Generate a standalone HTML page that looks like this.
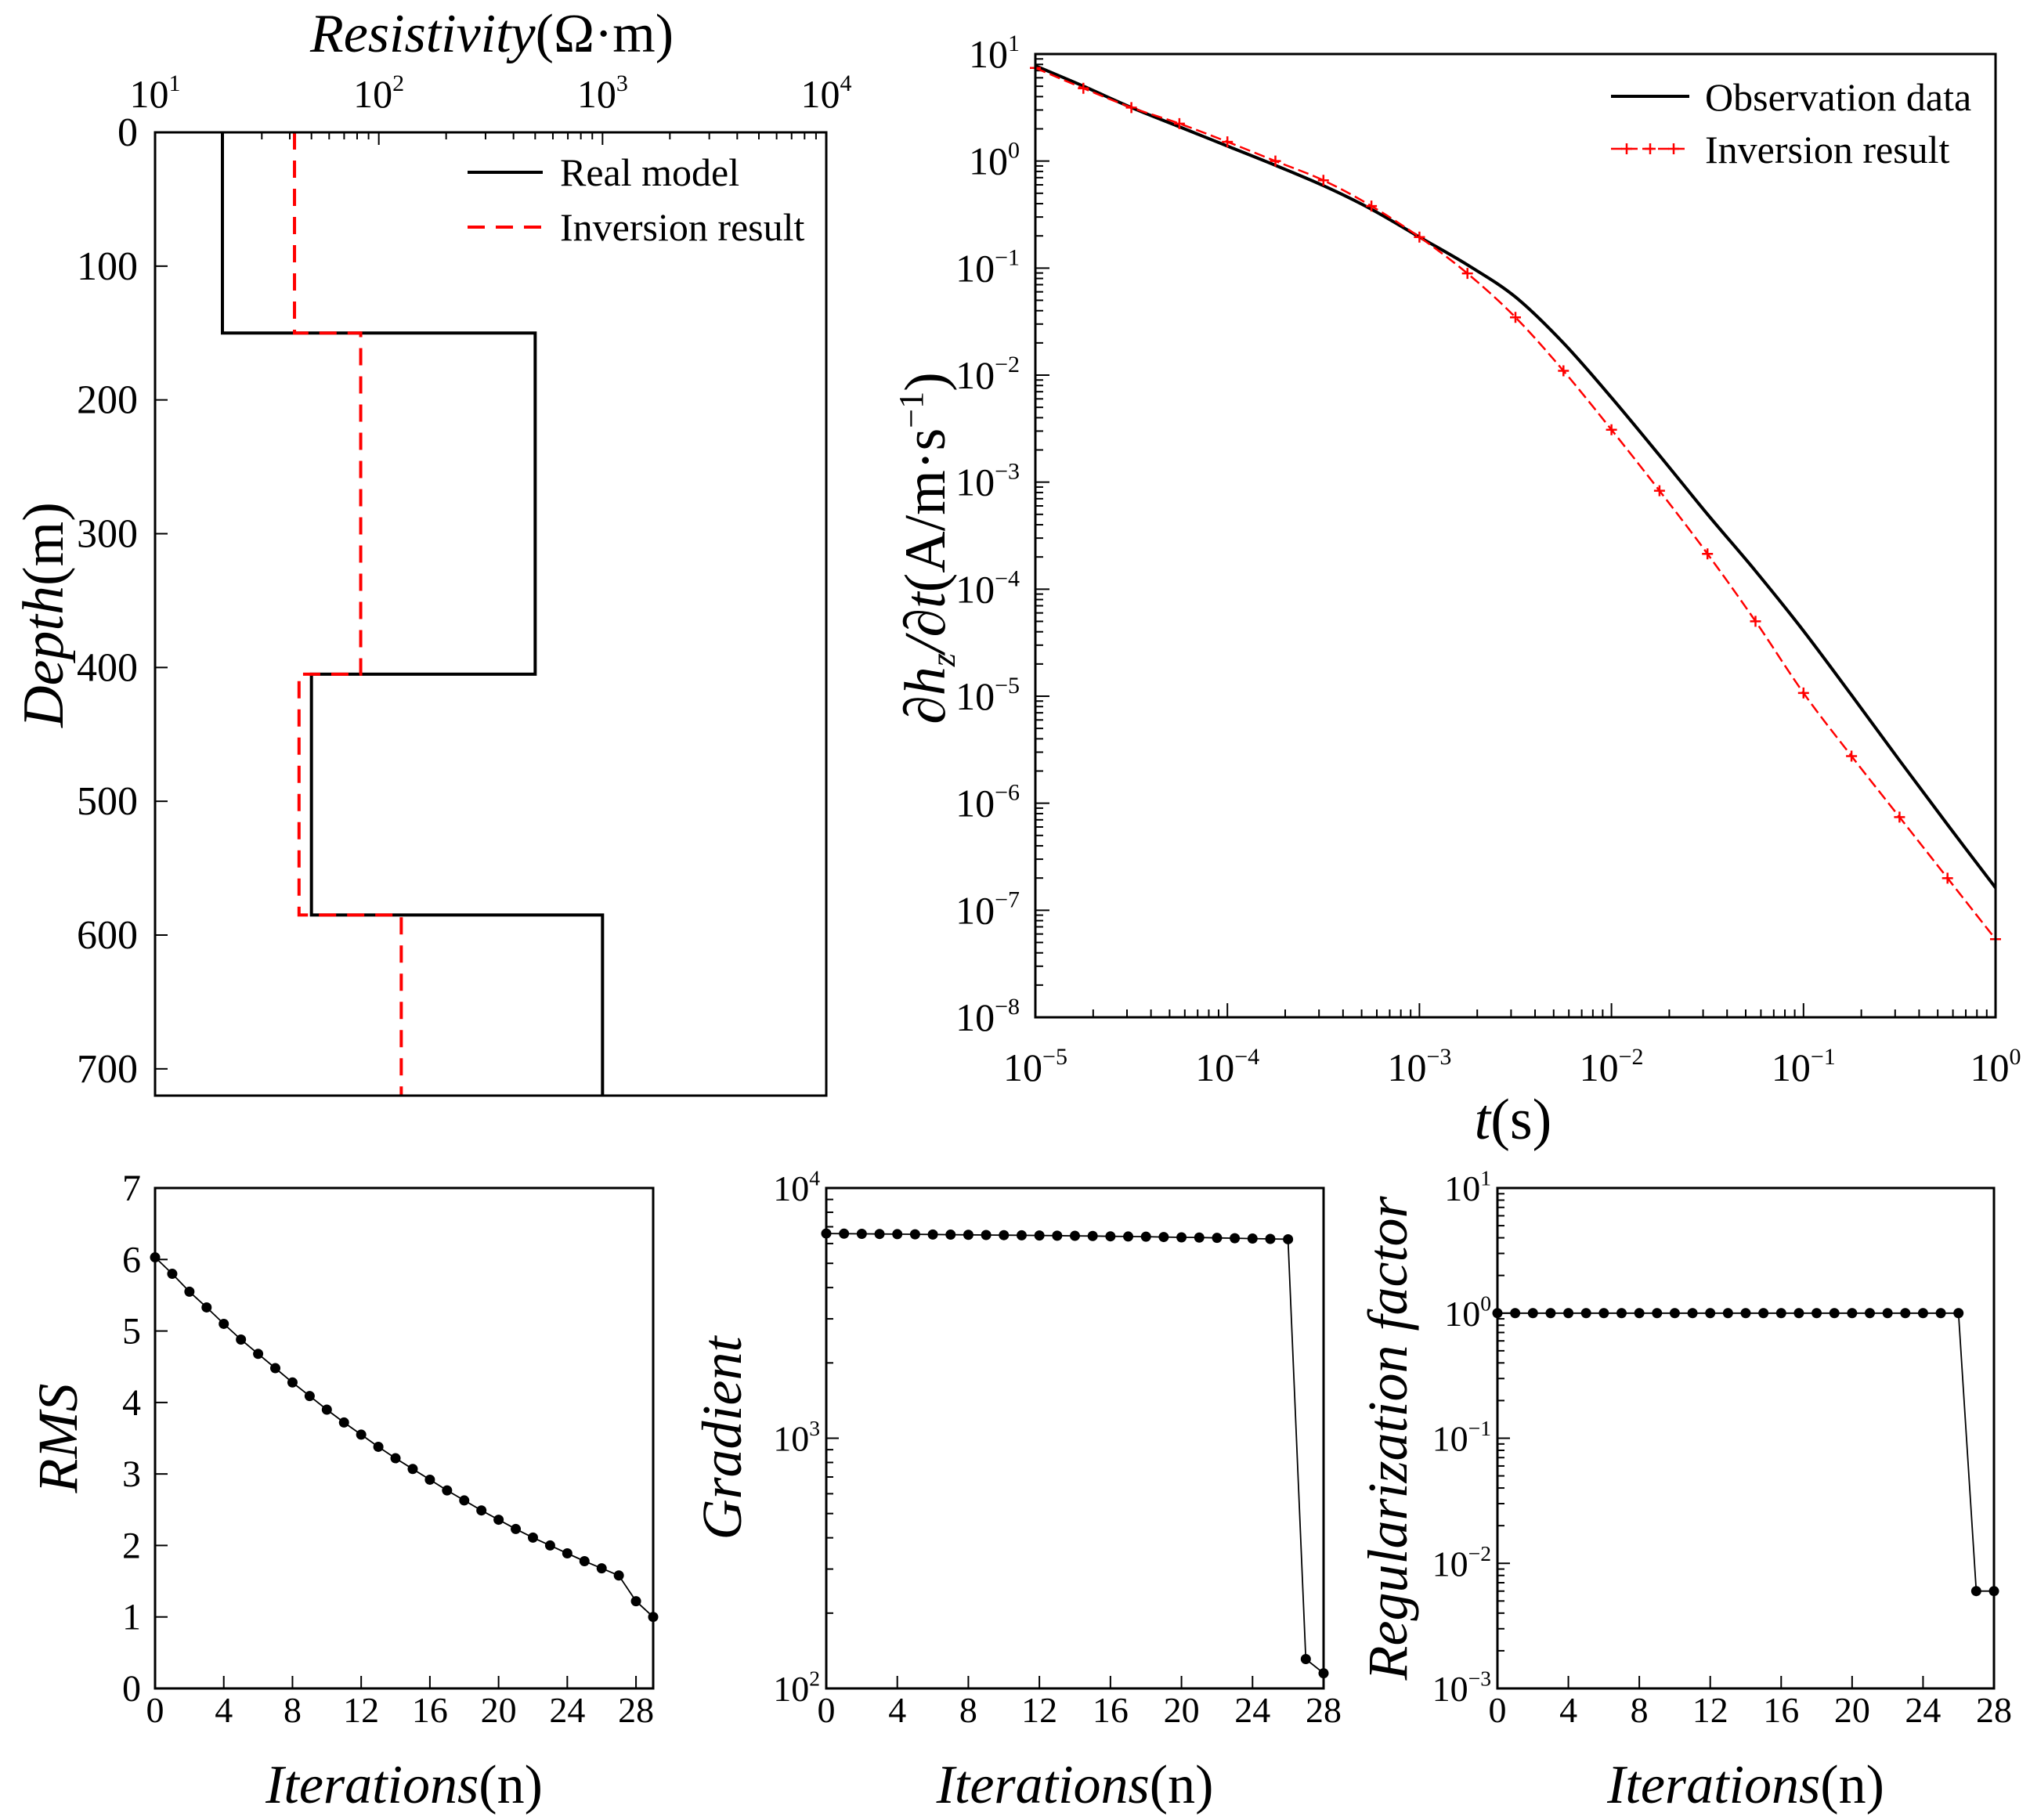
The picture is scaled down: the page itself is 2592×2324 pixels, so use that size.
<!DOCTYPE html>
<html><head><meta charset="utf-8">
<style>
html,body{margin:0;padding:0;background:#fff;}
svg{display:block;font-family:"Liberation Serif",serif;}
</style></head>
<body>
<svg id="fig" width="2592" height="2324" viewBox="0 0 2592 2324" xmlns="http://www.w3.org/2000/svg"></svg>
<script>
// ---- Panel (a): resistivity model ----
const realDepthEdges = [0, 150, 405, 585, 720];
const realRes = [20, 500, 50, 1000];
const invDepthEdges = [0, 150, 405, 585, 720];
const invRes = [42, 83, 44, 126];
const depthTicks = [0, 100, 200, 300, 400, 500, 600, 700];
const resTickExp = [1, 2, 3, 4];
// ---- Panel (b): transient curves ----
const logT = [-5,-4.75,-4.5,-4.25,-4,-3.75,-3.5,-3.25,-3,-2.75,-2.5,-2.25,-2,-1.75,-1.5,-1.25,-1,-0.75,-0.5,-0.25,0];
const obsLog = [0.89,0.70,0.50,0.32,0.14,-0.04,-0.23,-0.45,-0.71,-0.97,-1.27,-1.70,-2.21,-2.75,-3.30,-3.83,-4.39,-4.99,-5.60,-6.20,-6.79];
const invLog = [0.87,0.68,0.50,0.35,0.18,0.0,-0.18,-0.42,-0.71,-1.05,-1.46,-1.96,-2.51,-3.08,-3.67,-4.30,-4.97,-5.56,-6.13,-6.70,-7.27];
const tTickExp = [-5,-4,-3,-2,-1,0];
const dTickExp = [1,0,-1,-2,-3,-4,-5,-6,-7,-8];
// ---- Panel (c): RMS ----
const rmsVals = [6.03,5.80,5.55,5.33,5.10,4.88,4.68,4.48,4.28,4.09,3.90,3.72,3.55,3.38,3.22,3.07,2.92,2.77,2.63,2.49,2.36,2.23,2.11,2.00,1.89,1.78,1.68,1.58,1.22,1.00];
const rmsTicks = [0,1,2,3,4,5,6,7];
const iterTicks = [0,4,8,12,16,20,24,28];
// ---- Panel (d): gradient ----
const gradVals = [6580,6570,6560,6550,6540,6530,6520,6510,6500,6490,6480,6470,6460,6450,6440,6430,6410,6400,6390,6370,6350,6340,6320,6300,6280,6260,6240,131,115];
const gradTickExp = [2,3,4];
// ---- Panel (e): regularization ----
const regVals = [1,1,1,1,1,1,1,1,1,1,1,1,1,1,1,1,1,1,1,1,1,1,1,1,1,1,1,0.006,0.006];
const regTickExp = [-3,-2,-1,0,1];

const NS = "http://www.w3.org/2000/svg";
const svg = document.getElementById('fig');
function el(tag, attrs, parent, text){
  const e = document.createElementNS(NS, tag);
  for (const k in attrs) e.setAttribute(k, attrs[k]);
  if (text !== undefined) e.textContent = text;
  (parent || svg).appendChild(e);
  return e;
}
function line(x1,y1,x2,y2,w,c,p){ return el('line',{x1,y1,x2,y2,stroke:c||'#000','stroke-width':w||2},p); }
function powLabel(x,y,exp,size,anchor,p,name){
  const t = el('text',{x,y,'font-size':size,'text-anchor':anchor||'middle',fill:'#000'},p);
  
  
  el('tspan',{},t,'10');
  el('tspan',{dy:-size*0.42,'font-size':size*0.6},t, exp<0 ? '\u2212'+(-exp) : String(exp));
  return t;
}
function frame(x,y,w,h,name){
  const r = el('rect',{x,y,width:w,height:h,fill:'none',stroke:'#000','stroke-width':3});
  
  
}

// ===== Panel (a) =====
(function(){
  const L=198,R=1055,T=169,B=1399;
  const g = el('g',{});
  
  
  const xs = v => L + (Math.log10(v)-1)/3*(R-L);
  const ys = d => T + d/720*(B-T);
  frame(L,T,R-L,B-T,'resistivity-plot-frame');
  for (let e=1;e<4;e++){
    for (let m=1;m<10;m++){
      const x = xs(m*Math.pow(10,e));
      line(x,T,x,T+(m===1?16:9),2,'#000',g);
    }
  }
  resTickExp.forEach(e=>{
    powLabel(xs(Math.pow(10,e)), 137, e, 50, 'middle', g, 'resistivity-tick-label');
  });
  depthTicks.forEach(d=>{
    line(L,ys(d),L+16,ys(d),2,'#000',g);
    const t = el('text',{x:176,y:ys(d)+17,'font-size':52,'text-anchor':'end'},g,String(d));
    
    
  });
  function stepPath(edges, vals){
    let d = 'M'+xs(vals[0])+','+ys(edges[0]);
    for (let i=0;i<vals.length;i++){
      d += ' L'+xs(vals[i])+','+ys(edges[i+1]);
      if (i+1<vals.length) d += ' L'+xs(vals[i+1])+','+ys(edges[i+1]);
    }
    return d;
  }
  const p1 = el('path',{d:stepPath(realDepthEdges,realRes),fill:'none',stroke:'#000','stroke-width':4},g);
  
  
  const p2 = el('path',{d:stepPath(invDepthEdges,invRes),fill:'none',stroke:'#f00','stroke-width':4,'stroke-dasharray':'22 14'},g);
  
  
  const lg = el('g',{},g);
  
  
  line(597,220,693,220,4,'#000',lg);
  el('text',{x:715,y:237,'font-size':50},lg,'Real model');
  el('line',{x1:597,y1:290,x2:693,y2:290,stroke:'#f00','stroke-width':4,'stroke-dasharray':'22 14'},lg);
  el('text',{x:715,y:307,'font-size':50},lg,'Inversion result');
  const tt = el('text',{x:628,y:66,'font-size':70,'text-anchor':'middle'},g);
  
  
  el('tspan',{'font-style':'italic'},tt,'Resistivity');
  el('tspan',{},tt,'(\u03A9\u00B7m)');
  const yt = el('text',{x:0,y:0,'font-size':74,'text-anchor':'middle',transform:'translate(80,785) rotate(-90)'},g);
  
  
  el('tspan',{'font-style':'italic'},yt,'Depth');
  el('tspan',{},yt,'(m)');
})();

// ===== Panel (b) =====
(function(){
  const L=1322,R=2548,T=69,B=1299;
  const g = el('g',{});
  
  
  const xs = lt => L + (lt+5)/5*(R-L);
  const ys = ly => T + (1-ly)/9*(B-T);
  frame(L,T,R-L,B-T,'transient-plot-frame');
  for (let e=-5;e<0;e++){
    for (let m=1;m<10;m++){
      const x = xs(e+Math.log10(m));
      line(x,B,x,B-(m===1?18:10),2,'#000',g);
    }
  }
  for (let e=-8;e<1;e++){
    for (let m=1;m<10;m++){
      const y = ys(e+Math.log10(m));
      line(L,y,L+(m===1?18:10),y,2,'#000',g);
    }
  }
  tTickExp.forEach(e=>powLabel(xs(e),1380,e,50,'middle',g,'time-tick-label'));
  dTickExp.forEach(e=>powLabel(1302,ys(e)+17,e,50,'end',g,'response-tick-label'));
  function smooth(vals){
    const P = vals.map((v,i)=>[xs(logT[i]), ys(v)]);
    let d = 'M'+P[0][0].toFixed(1)+','+P[0][1].toFixed(1);
    for (let i=0;i<P.length-1;i++){
      const p0=P[Math.max(0,i-1)], p1=P[i], p2=P[i+1], p3=P[Math.min(P.length-1,i+2)];
      const c1=[p1[0]+(p2[0]-p0[0])/6, p1[1]+(p2[1]-p0[1])/6];
      const c2=[p2[0]-(p3[0]-p1[0])/6, p2[1]-(p3[1]-p1[1])/6];
      d += ` C${c1[0].toFixed(1)},${c1[1].toFixed(1)} ${c2[0].toFixed(1)},${c2[1].toFixed(1)} ${p2[0].toFixed(1)},${p2[1].toFixed(1)}`;
    }
    return d;
  }
  const o = el('path',{d:smooth(obsLog),fill:'none',stroke:'#000','stroke-width':4,'stroke-linejoin':'round'},g);
  
  
  const iv = el('path',{d:smooth(invLog),fill:'none',stroke:'#f00','stroke-width':2.5,'stroke-dasharray':'14 6'},g);
  
  
  invLog.forEach((v,i)=>{
    const x=xs(logT[i]), y=ys(v);
    const m = el('path',{d:`M${x-7},${y} L${x+7},${y} M${x},${y-7} L${x},${y+7}`,stroke:'#f00','stroke-width':2.5},g);
    
    
  });
  const lg = el('g',{},g);
  
  
  line(2057,123,2157,123,4,'#000',lg);
  el('text',{x:2177,y:141,'font-size':50},lg,'Observation data');
  el('line',{x1:2057,y1:190,x2:2157,y2:190,stroke:'#f00','stroke-width':2.5,'stroke-dasharray':'14 6'},lg);
  [2077,2107,2137].forEach(x=>el('path',{d:`M${x-7},190 L${x+7},190 M${x},183 L${x},197`,stroke:'#f00','stroke-width':2.5},lg));
  el('text',{x:2177,y:208,'font-size':50},lg,'Inversion result');
  const xt = el('text',{x:1932,y:1454,'font-size':74,'text-anchor':'middle'},g);
  
  
  el('tspan',{'font-style':'italic'},xt,'t');
  el('tspan',{},xt,'(s)');
  const yt = el('text',{x:0,y:0,'font-size':74,'text-anchor':'middle',transform:'translate(1206,700) rotate(-90)'},g);
  
  
  el('tspan',{'font-style':'italic'},yt,'\u2202h');
  el('tspan',{'font-style':'italic','font-size':44,dy:13},yt,'z');
  el('tspan',{'font-style':'italic',dy:-13},yt,'/\u2202t');
  el('tspan',{},yt,'(A/m\u00B7s');
  el('tspan',{'font-size':44,dy:-28},yt,'\u22121');
  el('tspan',{dy:28},yt,')');
})();

// ===== Bottom panels =====
function iterPanel(opt){
  const {L,R,T,B,xmax,vals,log,ymin,ymax,name,ylabel,ylabelX} = opt;
  const g = el('g',{});
  
  
  const xs = v => L + v/xmax*(R-L);
  const yv = v => log ? Math.log10(v) : v;
  const ys = v => B - (yv(v)-ymin)/(ymax-ymin)*(B-T);
  frame(L,T,R-L,B-T,name+'-frame');
  iterTicks.forEach(t=>{
    line(xs(t),B,xs(t),B-16,2,'#000',g);
    const tx = el('text',{x:xs(t),y:2199,'font-size':46,'text-anchor':'middle'},g,String(t));
    
    
  });
  if (log){
    for (let e=ymin;e<ymax;e++){
      for (let m=1;m<10;m++){
        const y = B - (e+Math.log10(m)-ymin)/(ymax-ymin)*(B-T);
        line(L,y,L+(m===1?16:9),y,2,'#000',g);
      }
    }
    opt.ticks.forEach(e=>powLabel(L-8,B-(e-ymin)/(ymax-ymin)*(B-T)+16,e,46,'end',g,name+'-tick-label'));
  } else {
    opt.ticks.forEach(v=>{
      line(L,ys(v),L+16,ys(v),2,'#000',g);
      const tx = el('text',{x:L-18,y:ys(v)+16,'font-size':48,'text-anchor':'end'},g,String(v));
      
      
    });
  }
  const d = vals.map((v,i)=>(i?'L':'M')+xs(i).toFixed(1)+','+ys(v).toFixed(1)).join(' ');
  const p = el('path',{d,fill:'none',stroke:'#000','stroke-width':1.8},g);
  
  
  vals.forEach((v,i)=>{
    const c = el('circle',{cx:xs(i),cy:ys(v),r:6.5,fill:'#000'},g);
    
    
  });
  const xt = el('text',{x:(L+R)/2,y:2302,'font-size':70,'text-anchor':'middle'},g);
  
  
  el('tspan',{'font-style':'italic'},xt,'Iterations');
  el('tspan',{},xt,'(n)');
  const yt = el('text',{x:0,y:0,'font-size':72,'font-style':'italic','text-anchor':'middle',transform:`translate(${ylabelX},${(T+B)/2}) rotate(-90)`},g,ylabel);
  
  
}
iterPanel({L:198,R:834,T:1517,B:2156,xmax:29,vals:rmsVals,log:false,ymin:0,ymax:7,ticks:rmsTicks,name:'rms-chart',ylabel:'RMS',ylabelX:98});
iterPanel({L:1055,R:1690,T:1517,B:2156,xmax:28,vals:gradVals,log:true,ymin:2,ymax:4,ticks:gradTickExp,name:'gradient-chart',ylabel:'Gradient',ylabelX:946});
iterPanel({L:1912,R:2546,T:1517,B:2156,xmax:28,vals:regVals,log:true,ymin:-3,ymax:1,ticks:regTickExp,name:'regularization-chart',ylabel:'Regularization factor',ylabelX:1796});
</script>
</body></html>
